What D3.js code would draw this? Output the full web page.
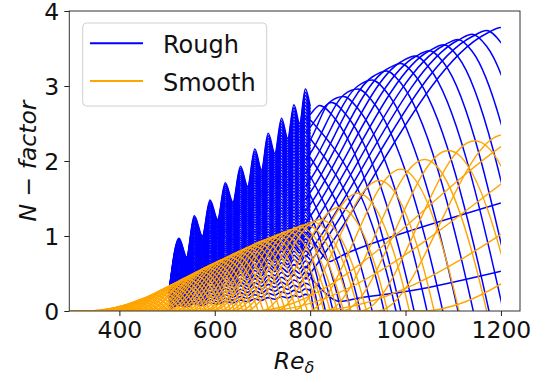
<!DOCTYPE html>
<html><head><meta charset="utf-8">
<script src="https://cdn.jsdelivr.net/npm/d3@7"></script>
<style>body{margin:0;background:#fff}svg{display:block}</style>
</head><body><svg id="c" width="542" height="381"></svg>
<script>
const xTicks=[400,600,800,1000,1200];
const yTicks=[0,1,2,3,4];
const seriesNames=["Rough","Smooth"];
const seriesColors=["#0000ff","#ffa500"];

// Smooth N-factor curves: branch I start, peak (x, N) and zero crossing
const smoothStart=[334,346,356,368,378,390,400,412,422,434,444,456,468,479,491,506,522,537,552,567,582,597,618,638,663,697,727,761,795,832,866,905,941, 680,700,800,1030,
  339,351,361,373,383,395,405,417,427,439,449,461,473,485,500,515,530,545,560,576,591,608,628,651];
const smoothPeakX=[390,405,420,435,450,465,480,495,510,525,540,555,570,585,600,620,640,660,680,700,720,740,765,790,820,860,900,945,990,1040,1090,1145,1205, 1400,1600,1800,1800,
  397,412,427,442,457,472,487,502,517,532,547,562,577,592,610,630,650,670,690,710,730,752,777,805];
const smoothPeakN=[0.03,0.05,0.08,0.11,0.15,0.19,0.23,0.28,0.33,0.38,0.43,0.48,0.53,0.58,0.63,0.69,0.75,0.81,0.87,0.93,0.98,1.03,1.09,1.15,1.22,1.38,1.57,1.74,1.89,2.02,2.14,2.27,2.35, 2.70,2.90,2.90,2.90,
  0.04,0.065,0.095,0.13,0.17,0.21,0.255,0.305,0.355,0.405,0.455,0.505,0.555,0.605,0.66,0.72,0.78,0.84,0.90,0.955,1.005,1.06,1.12,1.185];
const smoothZero=[425,442,460,477,495,512,530,547,565,582,600,617,634,651,668,691,714,737,760,783,806,829,857,885,918,962,1008,1060,1112,1170,1230,1295,1370, 1700,1900,2100,2100,
  433,450,468,485,503,520,538,555,573,590,608,625,642,659,679,702,725,748,771,794,817,842,870,901];

// Rough: oscillating region (top profile) and stacking levels
const roughOscX=[505,525,541,557,574,590,606,622,638,654,669,684,698,712,726,740,753,766,778,790,800];
const roughOscTop=[0.30,0.97,0.72,1.27,1.00,1.48,1.22,1.71,1.45,1.93,1.66,2.16,1.88,2.37,2.10,2.57,2.30,2.75,2.50,2.96,2.73];
const roughLevels=[1.000,0.985,0.970,0.955,0.940,0.925,0.910,0.895,0.880,0.865,0.850,0.835,0.820,0.805,0.790,0.775,0.760,0.745,0.730,0.715,0.700,0.685,0.670,0.655,0.640,0.625,0.610,0.595,0.580,0.565,0.550,0.535,0.520,0.505,0.490,0.475,0.460,0.445,0.430,0.415,0.400,0.385,0.370,0.355,0.340,0.325,0.310,0.290,0.270,0.250,0.225,0.200,0.175,0.150,0.125,0.100,0.075];

// Rough: downstream curves (value at 800, peak, zero crossing)
const roughStartN=[2.62,2.45,2.28,2.10,1.92,1.75,1.58,1.42,1.26,1.10,0.95,0.80,0.65,0.50, 2.55,2.30,2.05,1.80,1.55,1.30,1.05,0.80,0.55,0.30];
const roughPeakX=[820,845,870,900,930,960,990,1020,1050,1080,1110,1140,1170,1200, null,null,null,null,null,null,null,null,null,null];
const roughPeakN=[2.74,2.78,2.86,2.96,3.08,3.20,3.30,3.40,3.47,3.55,3.62,3.69,3.74,3.78, null,null,null,null,null,null,null,null,null,null];
const roughZero=[990,1018,1045,1078,1110,1142,1175,1205,1232,1262,1292,1325,1358,1400, 980,955,930,905,885,865,848,832,818,808];
// Rough: low curves that dip after 800 and then grow again
const roughDipX=[[800,835,870,1000,1200],[800,850,900,1020,1200]];
const roughDipN=[[1.00,0.68,0.75,1.05,1.44],[0.45,0.15,0.17,0.28,0.53]];

const svg=d3.select("#c");
const x=d3.scaleLinear().domain([295,1240]).range([69.3,520]);
const y=d3.scaleLinear().domain([0,4]).range([311,11]);

svg.append("defs").append("clipPath").attr("id","clip")
  .append("rect").attr("x",x(295)).attr("y",y(4)).attr("width",x(1200)-x(295)).attr("height",y(0)-y(4));

const line=d3.line().x(d=>x(d[0])).y(d=>y(d[1])).curve(d3.curveMonotoneX);
const sm=d3.line().x(d=>x(d[0])).y(d=>y(d[1])).curve(d3.curveNatural);
const g=svg.append("g").attr("clip-path","url(#clip)");
const draw=(pts,c,w,gen)=>g.append("path").attr("d",(gen||line)(pts)).attr("fill","none").attr("stroke",c).attr("stroke-width",w);

// Rough oscillating part
roughLevels.forEach(t=>draw(roughOscX.map((xx,i)=>[xx,roughOscTop[i]*t]),seriesColors[0],1.6));
// Rough downstream part
roughStartN.forEach((n0,i)=>{
  const pts=[];
  const p=roughPeakX[i], np=roughPeakN[i], e=roughZero[i];
  if(p!==null){
    const sl=(np-n0)/(p-800);
    pts.push([790,n0-sl*10],[800,n0]);
    if(p-800>60) pts.push([p-30,np-0.08]);
    pts.push([p,np],[p+30,np-0.16]);
  } else pts.push([800,n0]);
  pts.push([e,0],[e+20,-0.6]);
  draw(pts,seriesColors[0],1.5);
});
roughDipX.forEach((xs,i)=>draw(xs.map((xx,j)=>[xx,roughDipN[i][j]]),seriesColors[0],1.5,sm));
// Smooth
smoothStart.forEach((s,i)=>{
  draw([[s-40,0],[s,0],[smoothPeakX[i],smoothPeakN[i]],[smoothZero[i],0],[smoothZero[i]+20,-0.6]],seriesColors[1],1.4);
});

// Frame
svg.append("rect").attr("x",x(295)).attr("y",y(4)).attr("width",x(1240)-x(295)).attr("height",y(0)-y(4))
  .attr("fill","none").attr("stroke","#333").attr("stroke-width",1);

const font="DejaVu Sans";
const xa=svg.append("g").attr("transform",`translate(0,${y(0)})`)
  .call(d3.axisBottom(x).tickValues(xTicks).tickSize(5).tickPadding(5).tickFormat(d3.format("d")));
const ya=svg.append("g").attr("transform",`translate(${x(295)},0)`)
  .call(d3.axisLeft(y).tickValues(yTicks).tickSize(5).tickPadding(5).tickFormat(d3.format("d")));
[xa,ya].forEach(a=>{
  a.select(".domain").remove();
  a.selectAll("line").attr("stroke","#222");
  a.selectAll("text").attr("font-family",font).attr("font-size",23.5).attr("fill","#111");
});
ya.selectAll("text").attr("dy","0.36em");

// Axis labels
svg.append("text").attr("x",294).attr("y",369).attr("text-anchor","middle")
  .attr("font-family",font).attr("font-size",23.5).attr("font-style","italic").attr("fill","#111")
  .call(t=>{t.append("tspan").text("Re");t.append("tspan").attr("font-size",16).attr("dy",4).text("δ");});
svg.append("text").attr("transform",`translate(36,${(y(0)+y(4))/2}) rotate(-90)`).attr("text-anchor","middle")
  .attr("font-family",font).attr("font-size",23.5).attr("fill","#111")
  .call(t=>{t.append("tspan").attr("font-style","italic").text("N");
            t.append("tspan").text(" − ");
            t.append("tspan").attr("font-style","italic").text("factor");});

// Legend
const lg=svg.append("g");
lg.append("rect").attr("x",82.7).attr("y",23).attr("width",184).attr("height",83).attr("rx",4)
  .attr("fill","#fff").attr("fill-opacity",0.8).attr("stroke","#d0d0d0");
seriesNames.forEach((n,i)=>{
  const yy=43.3+i*37.7;
  lg.append("line").attr("x1",90).attr("x2",143).attr("y1",yy).attr("y2",yy).attr("stroke",seriesColors[i]).attr("stroke-width",2);
  lg.append("text").attr("x",163).attr("y",yy+10).attr("font-family",font).attr("font-size",24).attr("fill","#111").text(n);
});
</script></body></html>
